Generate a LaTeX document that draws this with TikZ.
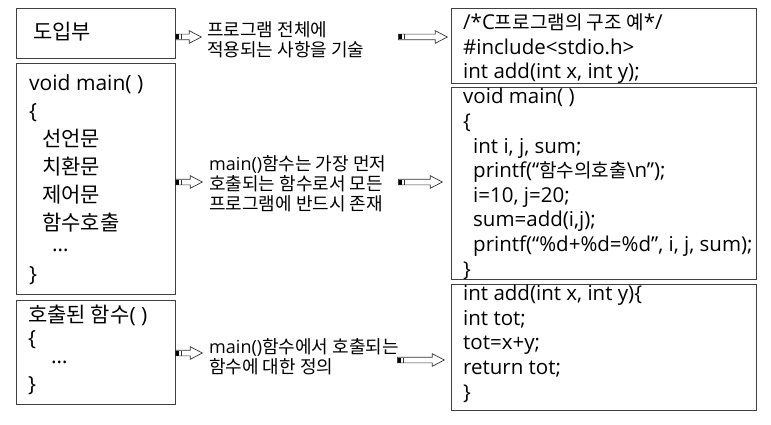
\documentclass[tikz,border=0pt]{standalone}
\usepackage{fontspec}
\setmainfont{Open Sans}
\newfontfamily\krfont{Noto Sans CJK KR}
\newfontfamily\krcode[Scale=0.93]{Noto Sans CJK KR}
\newcommand\kr[1]{{\krfont #1}}
\newcommand\krc[1]{{\krcode #1}}
\usetikzlibrary{shapes.arrows}

\tikzset{
  box/.style={draw=black!75, line width=1.2pt, anchor=north west, inner sep=0pt},
  code/.style={anchor=base west, align=left, inner sep=0pt, font=\fontsize{20.5}{24.6}\selectfont},
  part/.style={anchor=base west, align=left, inner sep=0pt, font=\fontsize{21}{28}\selectfont},
  note/.style={anchor=base west, align=left, inner sep=0pt, font=\fontsize{18}{20}\selectfont},
  blk/.style={single arrow, draw=black!80, line width=0.7pt, inner xsep=0pt, inner ysep=2.5pt,
    single arrow head extend=3.5pt, single arrow tip angle=55,
    anchor=tail,
    path picture={\fill[black] (path picture bounding box.west) ++(0pt,-2.5pt) rectangle ++(3.5pt,5pt);
      \draw[line width=0.6pt] (path picture bounding box.west) ++(5.5pt,-2.5pt) -- ++(0pt,5pt);}}
}

\begin{document}
\begin{tikzpicture}[x=1pt,y=-1pt]
   \useasboundingbox (0,0) rectangle (771,425);

   % left column
   \node[box, minimum width=159pt, minimum height=50pt] (intro) at (16,8) {};
   \node[box, minimum width=159pt, minimum height=231pt] (mainpart) at (16,63) {};
   \node[box, minimum width=159pt, minimum height=104pt] (funcpart) at (16,300) {};

   % text sits on the baseline of its last line
   \node[part] (intro_t) at (33,40) {\kr{도입부}};
   \node[part] (main_t) at (29,281) {void main( )\\
      \{\\
      \hspace*{13pt}\kr{선언문}\\
      \hspace*{13pt}\kr{치환문}\\
      \hspace*{13pt}\kr{제어문}\\
      \hspace*{13pt}\kr{함수호출}\\[-7pt]
      \hspace*{23pt}…\\[2pt]
      \}};
   \node[part, font=\fontsize{21}{23}\selectfont] (func_t) at (28,391) {\kr{호출된 함수}( )\\
      \{\\[-5pt]
      \hspace*{23pt}…\\[5pt]
      \}};

   % right column
   \node[box, minimum width=305pt, minimum height=75pt] (head) at (451,8) {};
   \node[box, minimum width=305pt, minimum height=192pt] (body) at (451,87) {};
   \node[box, minimum width=305pt, minimum height=126pt] (func) at (451,284) {};

   \node[code] (head_t) at (463,79) {/*C\krc{프로그램의 구조 예}*/\\
      \#include<stdio.h>\\
      int add(int x, int y);};
   \node[code] (body_t) at (463,276) {void main( )\\
      \{\\
      \hspace*{10pt}int i, j, sum;\\
      \hspace*{10pt}printf(“\krc{함수의호출}\textbackslash n”);\\
      \hspace*{10pt}i=10, j=20;\\
      \hspace*{10pt}sum=add(i,j);\\
      \hspace*{10pt}printf(“\%d+\%d=\%d”, i, j, sum);\\
      \}};
   \node[code] (func_t2) at (463,399) {int add(int x, int y)\{\\
      int tot;\\
      tot=x+y;\\
      return tot;\\
      \}};

   % notes
   \node[note] (n1) at (207,57) {\kr{프로그램 전체에}\\ \kr{적용되는 사항을 기술}};
   \node[note] (n2) at (209,210) {main()\kr{함수는 가장 먼저}\\ \kr{호출되는 함수로서 모든}\\ \kr{프로그램에 반드시 존재}};
   \node[note] (n3) at (209,373) {main()\kr{함수에서 호출되는}\\ \kr{함수에 대한 정의}};

   % arrows
   \node[blk, minimum height=26pt] (a1) at (175,37) {};
   \node[blk, minimum height=49pt] (a2) at (398,37) {};
   \node[blk, minimum height=27pt] (a3) at (175,182) {};
   \node[blk, minimum height=44pt] (a4) at (398,182) {};
   \node[blk, minimum height=27pt] (a5) at (175,353) {};
   \node[blk, minimum height=47pt] (a6) at (397,360) {};
\end{tikzpicture}
\end{document}
